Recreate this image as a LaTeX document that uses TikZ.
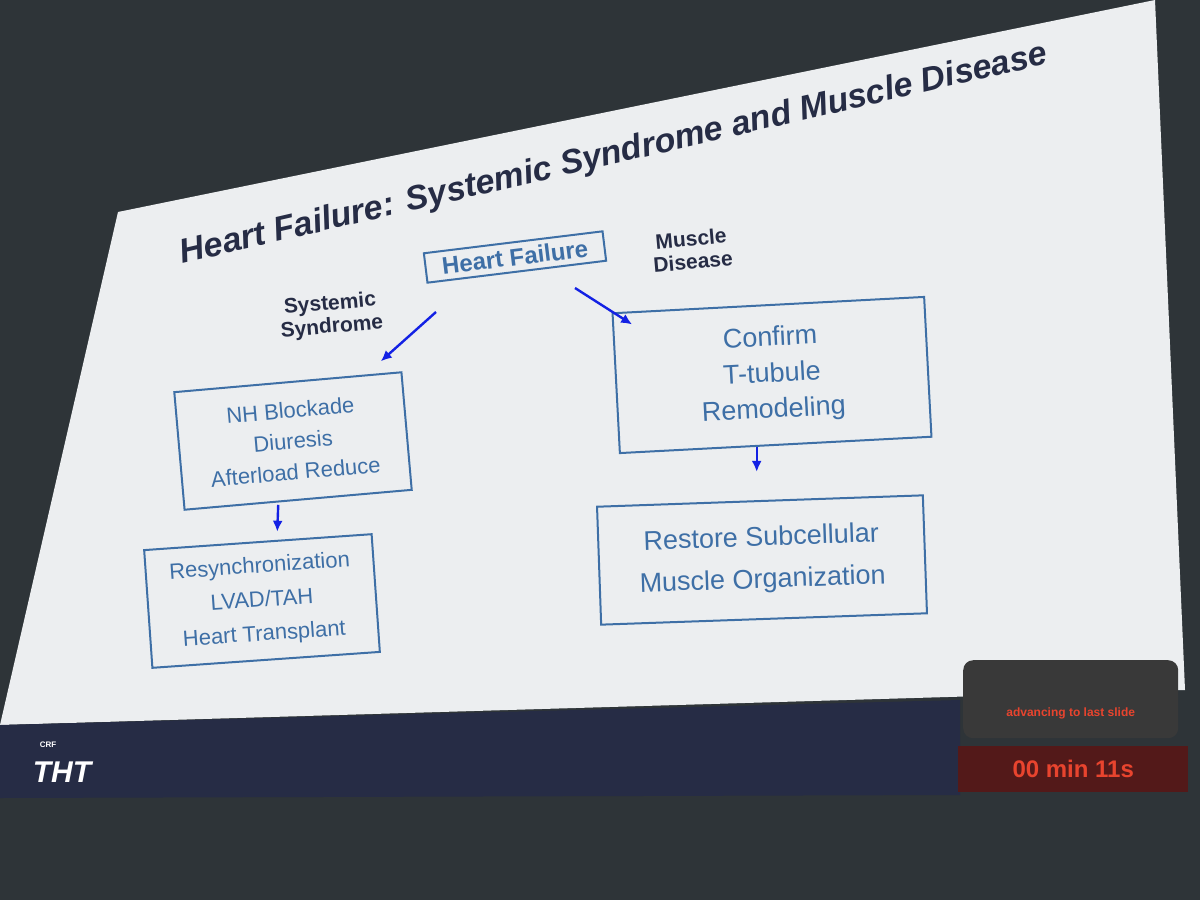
\documentclass[tikz,border=0pt]{standalone}
\usepackage{fontspec}
\setmainfont{Liberation Sans}[BoldItalicFont={Liberation Sans Bold Italic}]
\usetikzlibrary{positioning,arrows.meta}
\definecolor{slideblue}{HTML}{3E6FA6}
\definecolor{navy}{HTML}{262C45}
\definecolor{wall}{HTML}{2E3438}
\definecolor{screen}{HTML}{ECEEF0}
\definecolor{timered}{HTML}{E8442E}
\tikzset{
  box/.style={draw=slideblue, line width=2pt, text=slideblue, align=center, inner sep=6pt},
  label/.style={text=navy, font=\bfseries\fontsize{21}{23}\selectfont, align=center},
  flow/.style={-{Latex[length=11pt,width=10pt]}, draw=blue!70!slideblue, line width=2.4pt, shorten >=1pt}
}
\begin{document}
\begin{tikzpicture}[x=1pt,y=-1pt]
  \useasboundingbox (0,0) rectangle (1200,900);
  \fill[wall] (0,0) rectangle (1200,900);
  \fill[screen] (118,212) -- (1155,0) -- (1185,690) -- (0,725) -- cycle;
  \fill[navy] (0,725) -- (960,700) -- (960,795) -- (0,798) -- cycle;

  \node[rotate=13, text=navy, font=\bfseries\itshape\fontsize{34}{36}\selectfont] (title) at (614,155) {Heart Failure: Systemic Syndrome and Muscle Disease};

  \node[box, rotate=7, font=\bfseries\fontsize{24}{26}\selectfont, minimum width=180pt] (hf) at (515,257) {Heart Failure};
  \node[label, rotate=5] (sys) at (331,316) {Systemic\\Syndrome};
  \node[label, rotate=5] (mus) at (692,250) {Muscle\\Disease};

  \node[box, rotate=5, font=\fontsize{22}{31}\selectfont, minimum width=228pt, minimum height=118pt] (nh) at (293,441) {NH Blockade\\Diuresis\\Afterload Reduce};
  \node[box, rotate=4, font=\fontsize{22}{34}\selectfont, minimum width=228pt, minimum height=118pt] (res) at (262,601) {Resynchronization\\LVAD/TAH\\Heart Transplant};
  \node[box, rotate=3, font=\fontsize{27}{36}\selectfont, minimum width=312pt, minimum height=140pt] (conf) at (772,375) {Confirm\\T-tubule\\Remodeling};
  \node[box, rotate=2, font=\fontsize{27}{42}\selectfont, minimum width=326pt, minimum height=118pt] (rest) at (762,560) {Restore Subcellular\\Muscle Organization};

  \coordinate (a1) at (436,312);
  \coordinate (a2) at (575,288);
  \coordinate (e1) at (380,362);
  \coordinate (e2) at (633,325);
  \draw[flow] (a1) -- (e1);
  \draw[flow] (a2) -- (e2);
  \draw[flow] (nh.south) ++(-20,4) coordinate (b1) (b1) -- ++(-1,28);
  \draw[flow] (conf.south) ++(-19,1) coordinate (b2) (b2) -- ++(0,26);

  % footer
  \node[text=white, font=\bfseries\fontsize{8}{9}\selectfont] (crf) at (48,745) {CRF};
  \node[text=white, font=\bfseries\itshape\fontsize{30}{32}\selectfont] (tht) at (62,772) {THT};
  \node[fill=gray!45!black, rounded corners=10pt, minimum width=215pt, minimum height=78pt, anchor=north west] (msg) at (963,660) {};
  \node[text=timered, font=\bfseries\fontsize{12}{14}\selectfont] (msgt) at ([yshift=-14pt]msg.center) {advancing to last slide};
  \node[fill=black!75!red!90, text=timered, font=\bfseries\fontsize{24}{26}\selectfont, minimum width=230pt, minimum height=46pt, anchor=north west] (timer) at (958,746) {00 min 11s};
\end{tikzpicture}
\end{document}
